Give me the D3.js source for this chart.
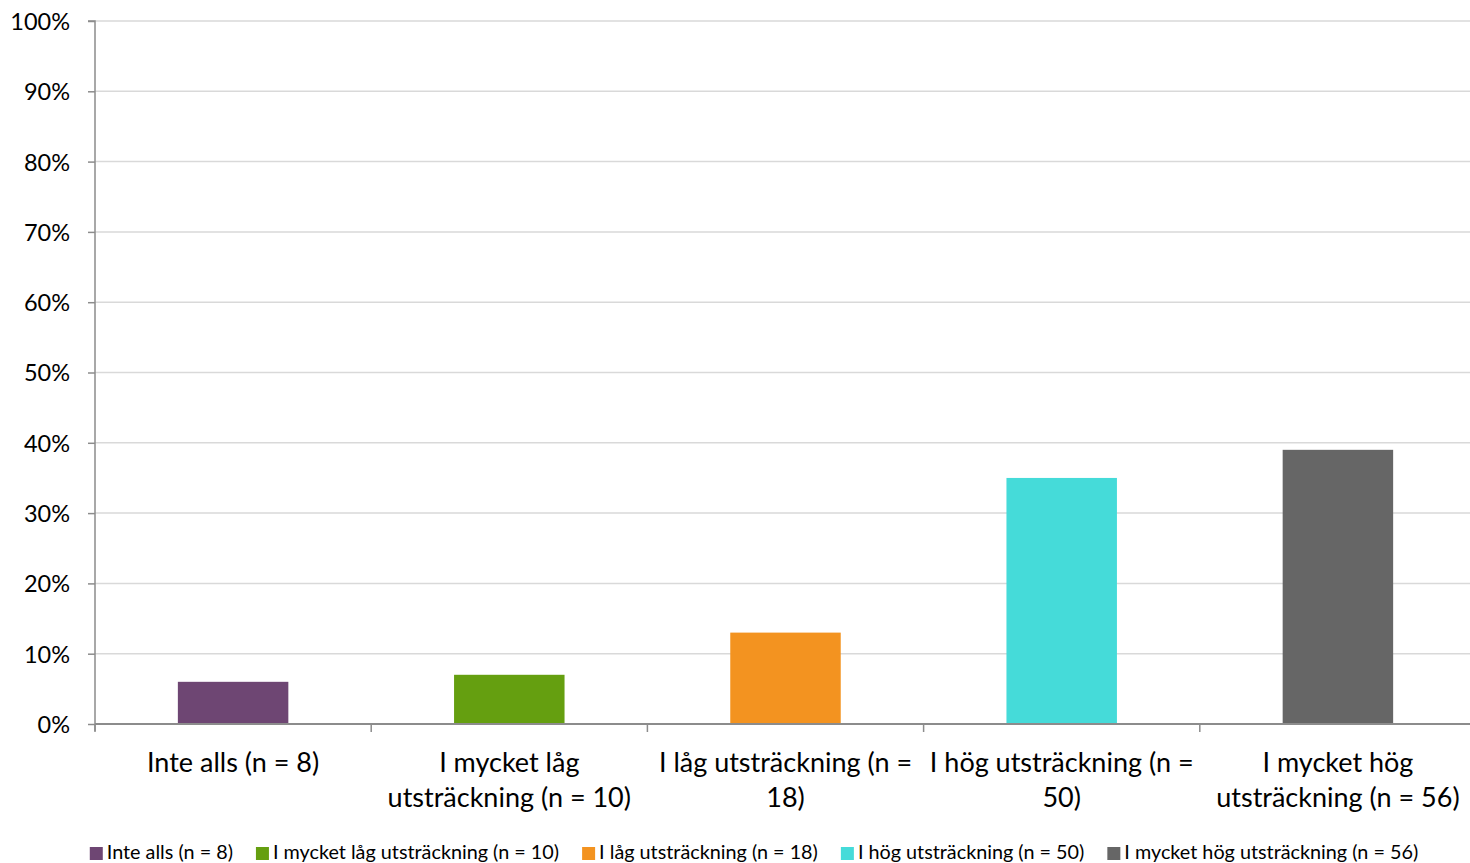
<!DOCTYPE html>
<html><head><meta charset="utf-8">
<script src="https://cdn.jsdelivr.net/npm/d3@7"></script>
<style>body{margin:0;background:#fff;} svg{display:block;font-family:Lato,"Open Sans",sans-serif;}</style>
</head><body>
<svg id="c" width="1470" height="863"></svg>
<script>
const categories = ["Inte alls (n = 8)","I mycket låg utsträckning (n = 10)","I låg utsträckning (n = 18)","I hög utsträckning (n = 50)","I mycket hög utsträckning (n = 56)"];
const categoryLines = [["Inte alls (n = 8)"],["I mycket låg","utsträckning (n = 10)"],["I låg utsträckning (n =","18)"],["I hög utsträckning (n =","50)"],["I mycket hög","utsträckning (n = 56)"]];
const values = [0.06,0.07,0.13,0.35,0.39];
const colors = ["#6E4673","#659F10","#F39320","#45DBD9","#666666"];
const yTicks = [0,0.1,0.2,0.3,0.4,0.5,0.6,0.7,0.8,0.9,1.0];

(function(){
const svg = d3.select("#c");
const pL=95, pR=1476, pT=21, pB=724;
const x = d3.scaleBand().domain(categories).range([pL,pR]).paddingInner(0.6).paddingOuter(0.3);
const y = d3.scaleLinear().domain([0,1]).range([pB,pT]);

svg.append("g").selectAll("line").data(yTicks.slice(1)).join("line")
  .attr("x1",pL).attr("x2",pR).attr("y1",d=>y(d)).attr("y2",d=>y(d))
  .attr("stroke","#d9d9d9").attr("stroke-width",1.5);

svg.append("g").selectAll("rect").data(values).join("rect")
  .attr("x",(d,i)=>x(categories[i])).attr("width",x.bandwidth())
  .attr("y",d=>y(d)).attr("height",d=>pB-y(d)).attr("fill",(d,i)=>colors[i]);

const yAxis = d3.axisLeft(y).tickValues(yTicks).tickFormat(d3.format(".0%")).tickSize(7).tickPadding(18);
const gy = svg.append("g").attr("transform",`translate(${pL},0)`).call(yAxis);
gy.select(".domain").attr("stroke","#8c8c8c").attr("stroke-width",1.5).attr("d",`M-7,${pT}H0V${pB+7}`);
gy.selectAll(".tick line").attr("stroke","#8c8c8c").attr("stroke-width",1.5);
gy.selectAll(".tick text").attr("font-size",23.5).attr("fill","#000").attr("font-family","Lato").attr("dy","0.36em");

const bx = d3.scaleLinear().domain([0,categories.length]).range([pL,pR]);
svg.append("line").attr("x1",pL).attr("x2",pR).attr("y1",pB).attr("y2",pB).attr("stroke","#8c8c8c").attr("stroke-width",2);
svg.append("g").selectAll("line").data(d3.range(categories.length+1)).join("line")
  .attr("x1",d=>bx(d)).attr("x2",d=>bx(d)).attr("y1",pB).attr("y2",pB+8)
  .attr("stroke","#8c8c8c").attr("stroke-width",1.5);

const cl = svg.append("g").selectAll("text").data(categoryLines).join("text")
  .attr("text-anchor","middle").attr("font-size",27).attr("fill","#000")
  .attr("transform",(d,i)=>`translate(${x(categories[i])+x.bandwidth()/2},772)`);
cl.selectAll("tspan").data(d=>d).join("tspan").attr("x",0).attr("dy",(d,j)=>j?35:0).text(d=>d);

const lg = svg.append("g");
const items = lg.selectAll("g").data(categories).join("g");
items.append("rect").attr("width",13).attr("height",13).attr("y",-12).attr("fill",(d,i)=>colors[i]);
items.append("text").attr("x",17).attr("font-size",19.8).attr("fill","#000").text(d=>d);
const widths=[];
items.each(function(){widths.push(this.getBBox().width);});
const gap=23;
const total=d3.sum(widths)+gap*(widths.length-1);
let cx=754-total/2;
items.attr("transform",(d,i)=>{const t=`translate(${cx},859)`; cx+=widths[i]+gap; return t;});
})();
</script>
</body></html>
